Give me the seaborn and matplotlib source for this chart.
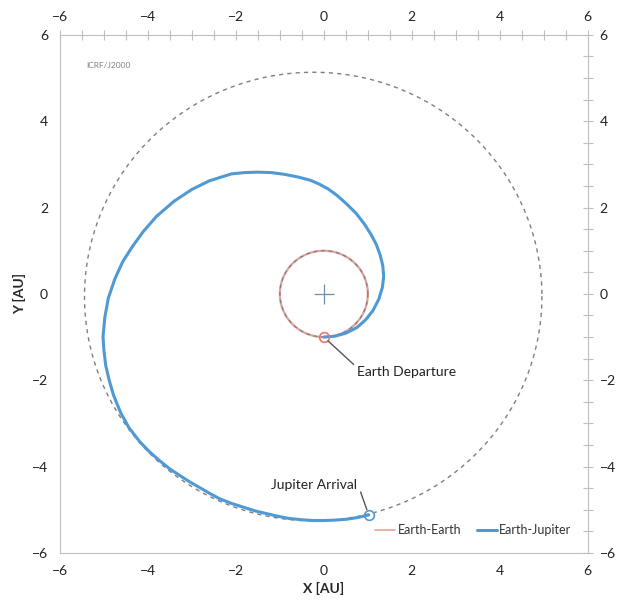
import numpy as np
import pandas as pd
import seaborn as sns
import matplotlib.pyplot as plt

# Earth-Jupiter transfer trajectory (AU)
traj_x = [0.0, 0.25, 0.5, 0.75, 0.95, 1.12, 1.25, 1.33, 1.36, 1.34, 1.28, 1.19,
          1.07, 0.92, 0.73, 0.5, 0.3, 0.1, -0.1, -0.3, -0.6,
          -0.9, -1.2, -1.5, -1.8, -2.1, -2.6, -3.0, -3.4, -3.8,
          -4.1, -4.35, -4.57, -4.75, -4.9, -4.98, -5.02,
          -5.0, -4.96, -4.88, -4.78, -4.62, -4.43, -4.18, -3.97, -3.75, -3.52,
          -3.27, -3.04, -2.8, -2.58, -2.36, -2.08, -1.8, -1.55, -1.3, -1.05,
          -0.8, -0.52, -0.25, 0.0, 0.25, 0.52, 0.77, 1.02]
traj_y = [-1.0, -0.98, -0.91, -0.78, -0.6, -0.38, -0.12, 0.15, 0.4, 0.65, 0.9, 1.15,
          1.38, 1.62, 1.87, 2.1, 2.28, 2.43, 2.54, 2.63, 2.71,
          2.77, 2.81, 2.82, 2.81, 2.78, 2.62, 2.42, 2.15, 1.8,
          1.45, 1.1, 0.75, 0.35, -0.1, -0.55, -1.0,
          -1.3, -1.65, -2.0, -2.35, -2.75, -3.1, -3.43, -3.65, -3.85, -4.04,
          -4.21, -4.36, -4.5, -4.63, -4.75, -4.86, -4.95, -5.03, -5.09, -5.15,
          -5.2, -5.23, -5.25, -5.25, -5.24, -5.22, -5.18, -5.12]

# orbital elements: semi-major axis, eccentricity, perihelion longitude (deg)
earth_orbit = (1.0, 0.0, 0.0)
jupiter_orbit = (5.2, 0.048, 14.0)

departure = (0.0, -1.0)
arrival = (1.02, -5.12)

ticks = [-6, -4, -2, 0, 2, 4, 6]


def orbit_xy(a, e, w):
    th = np.radians(np.arange(0, 361, 2))
    r = a * (1 - e**2) / (1 + e * np.cos(th - np.radians(w)))
    return pd.DataFrame({"x": r * np.cos(th), "y": r * np.sin(th)})


sns.set_theme(style="white")
plt.rcParams['font.family'] = ['Lato', 'DejaVu Sans']

fig = plt.figure(figsize=(6.24, 6.01), dpi=100)
ax = fig.add_axes([0.096, 0.08, 0.846, 0.862])

blue = "#4f9ad4"
pink = "#e3a29c"
grey = "#7f7f7f"

earth = orbit_xy(*earth_orbit)
jup = orbit_xy(*jupiter_orbit)
traj = pd.DataFrame({"x": traj_x, "y": traj_y})

kw = dict(x="x", y="y", sort=False, estimator=None, errorbar=None, ax=ax)
sns.lineplot(data=earth, color=pink, lw=1.6, label="Earth-Earth", **kw)
sns.lineplot(data=earth, color=grey, lw=0.9, **kw).lines[-1].set_dashes([3, 3])
sns.lineplot(data=jup, color=grey, lw=1.0, **kw).lines[-1].set_dashes([3, 3])
sns.lineplot(data=traj, color=blue, lw=2.2, label="Earth-Jupiter", **kw)

ax.plot(*departure, marker="o", ms=7, mfc="none", mec="#e07b70", mew=1.2)
ax.plot(*arrival, marker="o", ms=7, mfc="none", mec=blue, mew=1.2)
ax.plot(0, 0, marker="+", ms=14, color="#6f8fb0", mew=0.9)

ax.annotate("Earth Departure", xy=departure, xytext=(0.75, -1.8),
            fontsize=10, color="#222222", ha="left", va="center",
            arrowprops=dict(arrowstyle="-", color="#555555", lw=1.0,
                            relpos=(0, 0.85), shrinkA=0, shrinkB=4))
ax.annotate("Jupiter Arrival", xy=arrival, xytext=(0.76, -4.43),
            fontsize=10, color="#222222", ha="right", va="center",
            arrowprops=dict(arrowstyle="-", color="#555555", lw=1.0,
                            relpos=(1, 0.7), shrinkA=0, shrinkB=4))
ax.text(-5.4, 5.28, "ICRF/J2000", fontsize=6, color="#808080", va="center")

ax.set_xlim(-6, 6)
ax.set_ylim(-6, 6)
ax.set_aspect("auto")
ax.set_xticks(ticks)
ax.set_yticks(ticks)
ax.set_xticks(np.arange(-6, 6.01, 0.5), minor=True)
ax.set_yticks(np.arange(-6, 6.01, 0.5), minor=True)
ax.tick_params(which="both", direction="inout", color="#bfbfbf", width=0.8,
               top=True, right=True, labeltop=True, labelright=True,
               labelsize=10, labelcolor="#222222")
ax.tick_params(which="major", length=7, pad=5)
ax.tick_params(which="minor", length=7)
for s in ax.spines.values():
    s.set_color("#bfbfbf")
    s.set_linewidth(0.8)

ax.set_xlabel("X [AU]", fontsize=10, fontweight="bold", labelpad=4)
ax.set_ylabel("Y [AU]", fontsize=10, fontweight="bold", labelpad=4)

leg = ax.legend(loc="lower right", bbox_to_anchor=(0.99, 0.01), ncol=2, frameon=False,
                fontsize=9, handlelength=1.6, handletextpad=0.2, columnspacing=1.2,
                labelcolor="#333333")
leg.get_lines()[0].set_linewidth(1.2)

fig.savefig("out.png", dpi=100)
